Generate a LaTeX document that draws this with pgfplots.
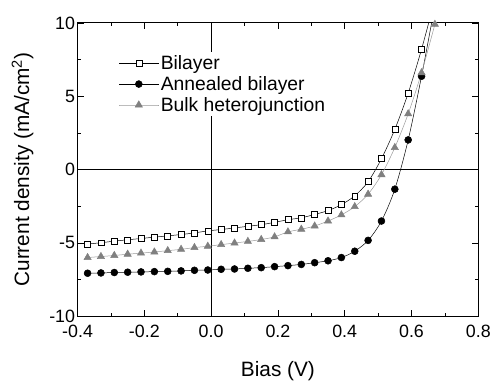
\documentclass[border=0pt]{standalone}
\usepackage{pgfplots}
\pgfplotsset{compat=1.18}
\usepackage{fontspec}
\setmainfont{Liberation Sans}
\begin{document}
\begin{tikzpicture}
\begin{axis}[
  scale only axis,
  width=403bp, height=295bp,
  xmin=-0.4, xmax=0.8, ymin=-10, ymax=10,
  xtick={-0.4,-0.2,0,0.2,0.4,0.6,0.8},
  ytick={-10,-5,0,5,10},
  minor x tick num=1, minor y tick num=1,
  tick align=inside,
  major tick length=6bp, minor tick length=3bp,
  every tick/.style={black, line width=0.6pt},
  axis line style={line width=0.8pt},
  xticklabel style={/pgf/number format/fixed, /pgf/number format/fixed zerofill, /pgf/number format/precision=1, yshift=-5bp},
  yticklabel style={xshift=1bp},
  /pgf/number format/assume math mode=true,
  tick label style={font=\fontsize{18}{20}\selectfont},
  label style={font=\fontsize{21}{23}\selectfont},
  xlabel={Bias (V)},
  ylabel={Current density (mA/cm\textsuperscript{2})},
  xlabel style={yshift=-17bp},
  ylabel style={yshift=9bp},
  legend style={draw=none, fill=white, at={(0.1,0.9)}, anchor=north west,
    font=\fontsize{19.5}{21}\selectfont, row sep=1.5bp, inner sep=1bp},
  legend cell align=left,
  legend image code/.code={\draw[mark repeat=2,mark phase=2] plot coordinates {(0cm,0cm) (0.7cm,0cm) (1.4cm,0cm)};},
  clip=true,
]
\draw[black, line width=0.8pt] (axis cs:-0.4,0) -- (axis cs:0.8,0);
\draw[black, line width=0.8pt] (axis cs:0,-10) -- (axis cs:0,10);

\addplot[black, line width=0.5pt, smooth, mark=square*, mark options={fill=white, draw=black, line width=0.5pt}, mark size=3bp]
coordinates {
(-0.37,-5.08) (-0.33,-4.99) (-0.29,-4.88) (-0.25,-4.79) (-0.21,-4.70) (-0.17,-4.61) (-0.13,-4.52) (-0.09,-4.43) (-0.05,-4.32) (-0.01,-4.18)
(0.03,-4.09) (0.07,-3.98) (0.11,-3.87) (0.15,-3.76) (0.19,-3.60) (0.23,-3.42) (0.27,-3.29) (0.31,-3.06) (0.35,-2.80) (0.39,-2.39)
(0.43,-1.79) (0.47,-0.83) (0.51,0.74) (0.55,2.74) (0.59,5.21) (0.63,8.20) (0.67,11.6)
};
\addlegendentry{Bilayer}

\addplot[black, line width=0.5pt, smooth, mark=*, mark options={fill=black, draw=black}, mark size=3.5bp]
coordinates {
(-0.37,-7.07) (-0.33,-7.05) (-0.29,-7.02) (-0.25,-7.00) (-0.21,-6.98) (-0.17,-6.96) (-0.13,-6.94) (-0.09,-6.91) (-0.05,-6.87) (-0.01,-6.85)
(0.03,-6.80) (0.07,-6.78) (0.11,-6.73) (0.15,-6.69) (0.19,-6.62) (0.23,-6.55) (0.27,-6.47) (0.31,-6.35) (0.35,-6.22) (0.39,-6.00)
(0.43,-5.57) (0.47,-4.83) (0.51,-3.51) (0.55,-1.34) (0.59,2.02) (0.63,6.36) (0.67,11.2)
};
\addlegendentry{Annealed bilayer}

\addplot[gray!80, line width=0.5pt, smooth, mark=triangle*, mark options={fill=gray, draw=gray}, mark size=4.2bp]
coordinates {
(-0.37,-6.00) (-0.33,-5.93) (-0.29,-5.86) (-0.25,-5.77) (-0.21,-5.70) (-0.17,-5.62) (-0.13,-5.53) (-0.09,-5.44) (-0.05,-5.32) (-0.01,-5.23)
(0.03,-5.12) (0.07,-5.01) (0.11,-4.90) (0.15,-4.77) (0.19,-4.59) (0.23,-4.25) (0.27,-4.07) (0.31,-3.85) (0.35,-3.51) (0.39,-3.09)
(0.43,-2.53) (0.47,-1.68) (0.51,-0.35) (0.55,1.50) (0.59,3.80) (0.63,6.60) (0.67,9.90)
};
\addlegendentry{Bulk heterojunction}
\end{axis}
\path ([shift={(-78bp,-58bp)}]current axis.south west) rectangle ([shift={(13bp,23bp)}]current axis.north east);
\end{tikzpicture}
\end{document}
